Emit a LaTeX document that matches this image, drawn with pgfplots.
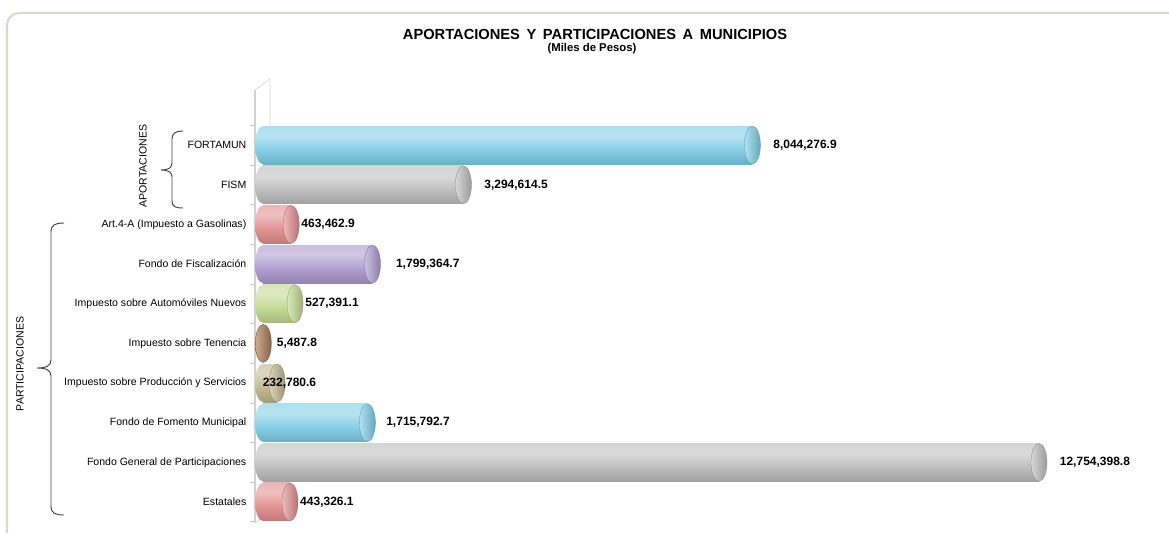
\documentclass[border=0pt]{standalone}
\usepackage{pgfplots}
\pgfplotsset{compat=1.18}
\usepackage{fontspec}
\setmainfont{Liberation Sans}
\usetikzlibrary{shapes.geometric}

\definecolor{cCyan}{RGB}{125,205,230}
\definecolor{cGray}{RGB}{188,188,188}
\definecolor{cPink}{RGB}{225,140,140}
\definecolor{cPurple}{RGB}{172,152,206}
\definecolor{cGreen}{RGB}{192,216,142}
\definecolor{cBrown}{RGB}{168,118,82}
\definecolor{cKhaki}{RGB}{192,182,138}
\definecolor{frameC}{RGB}{218,218,204}

\newcommand\mkshade[1]{%
  \pgfdeclareverticalshading{cyl#1}{100bp}{%
    color(0bp)=(#1!55!black); color(18bp)=(#1!80!black); color(45bp)=(#1!92!white);
    color(62bp)=(#1!55!white); color(78bp)=(#1!65!white); color(92bp)=(#1);
    color(100bp)=(#1!70!black)}}
\mkshade{cCyan}\mkshade{cGray}\mkshade{cPink}\mkshade{cPurple}
\mkshade{cGreen}\mkshade{cBrown}\mkshade{cKhaki}

% #1 y index, #2 value, #3 label text, #4 colour, #5 label shift
\newcommand\cylbar[5]{%
  \addplot[only marks, mark=none, nodes near coords={\relax},
    every node near coord/.style={ellipse, inner sep=0pt, minimum width=12pt,
      minimum height=28.5pt, shade, shading=cyl#4, draw=none, anchor=center}]
    coordinates {(0,#1)};
  \addplot[xbar, bar shift=0pt, bar width=28.5pt, draw=none, shade, shading=cyl#4]
    coordinates {(#2,#1)};
  \addplot[only marks, mark=none, nodes near coords={\relax},
    every node near coord/.style={ellipse, inner sep=0pt, minimum width=12pt,
      minimum height=28.5pt, left color=#4!60!white, right color=#4!82!black,
      draw=#4!75!black, line width=0.25pt, anchor=center}] coordinates {(#2,#1)};
  \addplot[only marks, mark=none, nodes near coords={#3},
    every node near coord/.style={anchor=west, inner sep=0pt, xshift=#5,
      font=\fontsize{9}{10}\selectfont\bfseries, text=black}] coordinates {(#2,#1)};
}

\begin{document}
\begin{tikzpicture}
\path[use as bounding box] (0pt,0pt) rectangle (876.75pt,-399.75pt);
\begin{scope}[x=0.75pt,y=-0.75pt]
  \draw[frameC, line width=1.6pt, rounded corners=9pt] (7,533) -- (7,13) -- (1169,13);
  \draw[gray!30, line width=0.6pt] (255,90) -- (270,79) -- (270,512) -- (255,523);
  \node[font=\fontsize{11}{12}\selectfont\bfseries] at (595,34)
    {APORTACIONES\hspace{0.45em}Y\hspace{0.45em}PARTICIPACIONES\hspace{0.45em}A\hspace{0.45em}MUNICIPIOS};
  \node[font=\fontsize{8.5}{9}\selectfont\bfseries] at (592,49) {(Miles de Pesos)};
\end{scope}

\begin{axis}[
  at={(191.25pt,-392.25pt)}, anchor=south west,
  width=678.75pt, height=324.75pt, scale only axis,
  xmin=-131500, xmax=14744000, ymin=-0.53, ymax=10.39,
  axis x line=none, axis y line*=left,
  y axis line style={draw=gray!35, line width=0.8pt},
  xtick=\empty,
  ytick={0,...,9},
  yticklabels={Estatales, Fondo General de Participaciones, Fondo de Fomento Municipal,
    Impuesto sobre Producción y Servicios, Impuesto sobre Tenencia,
    Impuesto sobre Automóviles Nuevos, Fondo de Fiscalización,
    Art.4-A (Impuesto a Gasolinas), FISM, FORTAMUN},
  major tick length=0pt,
  minor ytick={-0.5,0.5,...,9.5},
  minor tick length=3.5pt,
  tick align=outside,
  tick style={draw=gray!45, line width=0.5pt},
  yticklabel style={font=\fontsize{7.9}{9}\selectfont, text=black, xshift=-3pt},
  clip=false,
]
\cylbar{9}{8044276.9}{8,044,276.9}{cCyan}{15.5pt}
\cylbar{8}{3294614.5}{3,294,614.5}{cGray}{15.5pt}
\cylbar{7}{463462.9}{463,462.9}{cPink}{7.5pt}
\cylbar{6}{1799364.7}{1,799,364.7}{cPurple}{17.5pt}
\cylbar{5}{527391.1}{527,391.1}{cGreen}{7.5pt}
\cylbar{4}{5487.8}{5,487.8}{cBrown}{10pt}
\cylbar{3}{232780.6}{232,780.6}{cKhaki}{-11pt}
\cylbar{2}{1715792.7}{1,715,792.7}{cCyan}{14pt}
\cylbar{1}{12754398.8}{12,754,398.8}{cGray}{15.5pt}
\cylbar{0}{443326.1}{443,326.1}{cPink}{7.5pt}
\end{axis}

\begin{scope}[x=0.75pt,y=-0.75pt]
  \draw[black!75, line width=0.7pt]
    (183,131) .. controls (176,131) and (172,133) .. (172,139) -- (172,163)
    .. controls (172,168) and (168,170) .. (161,170)
    .. controls (168,170) and (172,172) .. (172,177) -- (172,201)
    .. controls (172,207) and (176,208) .. (183,208);
  \draw[black!75, line width=0.7pt]
    (64,223) .. controls (55,223) and (51,225) .. (51,232) -- (51,360)
    .. controls (51,366) and (46,368) .. (37,368)
    .. controls (46,368) and (51,370) .. (51,376) -- (51,506)
    .. controls (51,513) and (55,515) .. (64,515);
  \node[rotate=90, font=\fontsize{7.9}{9}\selectfont] at (143,166) {APORTACIONES};
  \node[rotate=90, font=\fontsize{7.9}{9}\selectfont] at (20,364) {PARTICIPACIONES};
\end{scope}
\end{tikzpicture}
\end{document}
